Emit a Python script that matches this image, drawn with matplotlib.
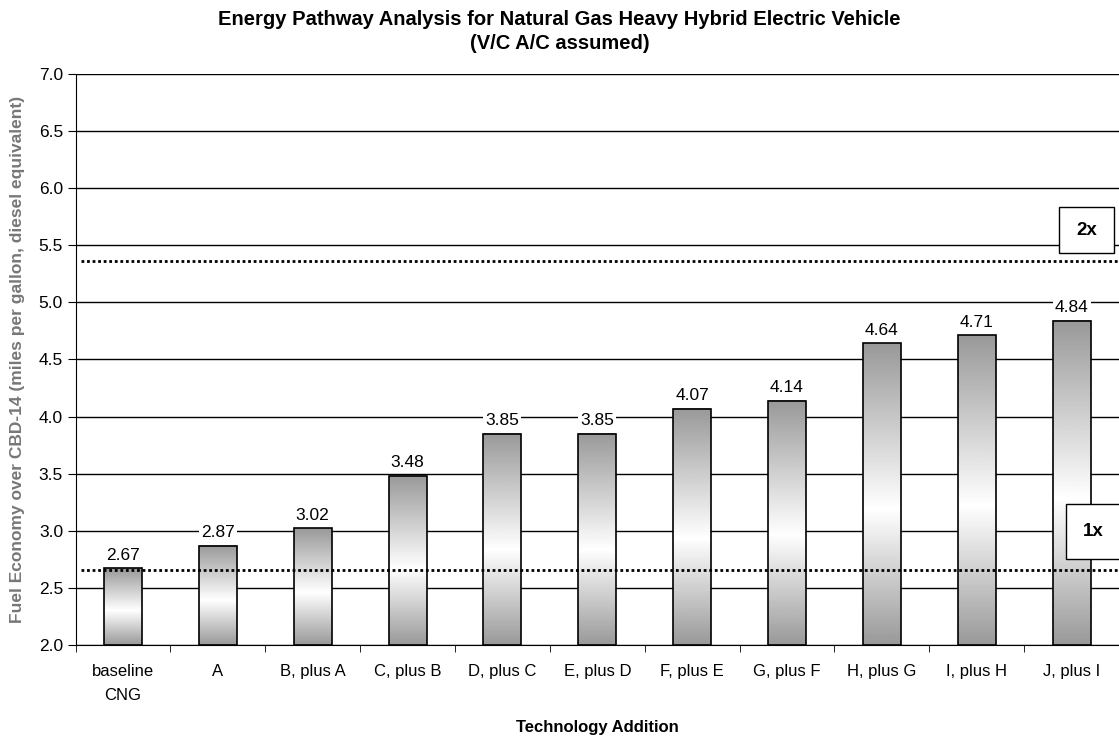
import matplotlib.pyplot as plt
import numpy as np
from matplotlib.patches import Rectangle

plt.rcParams['font.family'] = ['Liberation Sans', 'DejaVu Sans']

#%%
# data
categories = ["baseline\nCNG", "A", "B, plus A", "C, plus B", "D, plus C",
              "E, plus D", "F, plus E", "G, plus F", "H, plus G", "I, plus H",
              "J, plus I"]
mpg = [2.67, 2.87, 3.02, 3.48, 3.85, 3.85, 4.07, 4.14, 4.64, 4.71, 4.84]
level_1x = 2.66
level_2x = 5.36

#%%
def gradient_bar(ax, x, top, bottom, width, grey=0.6, white_at=0.45):
    """Bar filled grey-white-grey from bottom to top."""
    t = np.linspace(0, 1, 256)
    prof = np.where(t < white_at, t/white_at, (1-t)/(1-white_at))
    col = grey + (1-grey)*prof
    img = np.repeat(col[:, None], 2, axis=1)
    ax.imshow(img, extent=(x-width/2, x+width/2, bottom, top), origin="lower",
              cmap="gray", vmin=0, vmax=1, aspect="auto", zorder=2,
              interpolation="bilinear")
    ax.add_patch(Rectangle((x-width/2, bottom), width, top-bottom,
                           fill=False, ec="black", lw=1.2, zorder=3))


fig = plt.figure(figsize=(11.19, 7.38), dpi=100)
ax = fig.add_axes([0.0675, 0.126, 0.9325, 0.774])

ymin, ymax = 2.0, 7.0
x = np.arange(len(categories))
w = 0.4

for i in range(len(mpg)):
    gradient_bar(ax, x[i], mpg[i], ymin, w)
    ax.annotate(f"{mpg[i]:.2f}", (x[i], mpg[i]), xytext=(0, 4),
                textcoords="offset points", ha="center", va="bottom",
                fontsize=12.5, zorder=4,
                bbox=dict(fc="white", ec="none", pad=1.5))

# reference levels
ax.plot([-0.44, 10.5], [level_2x, level_2x], ls=(0, (1, 1)), c="black",
        lw=2, zorder=5)
ax.plot([-0.44, 10.5], [level_1x, level_1x], ls=(0, (1, 1)), c="black",
        lw=2, zorder=5)

ax.add_patch(Rectangle((9.87, 5.43), 0.58, 0.40, fc="white", ec="black",
                       lw=1, zorder=6, clip_on=False))
ax.text(10.16, 5.63, "2x", fontsize=13.5, fontweight="bold", ha="center",
        va="center", zorder=7)
ax.add_patch(Rectangle((9.94, 2.75), 0.6, 0.485, fc="white", ec="black",
                       lw=1, zorder=6, clip_on=False))
ax.text(10.23, 2.99, "1x", fontsize=13.5, fontweight="bold", ha="center",
        va="center", zorder=7)

ax.set_xlim(-0.5, 10.5)
ax.set_ylim(ymin, ymax)
ax.set_yticks(np.arange(2.0, 7.01, 0.5))
ax.set_yticklabels([f"{t:.1f}" for t in np.arange(2.0, 7.01, 0.5)])
ax.yaxis.grid(True, color="black", lw=1)
ax.set_axisbelow(True)

ax.set_xticks(x)
ax.set_xticklabels(categories, fontsize=12, linespacing=1.7)
ax.set_xticks(np.arange(-0.5, 10.6, 1), minor=True)
ax.tick_params(axis="x", which="major", length=0, pad=14)
ax.tick_params(axis="x", which="minor", length=5, direction="out")
ax.tick_params(axis="y", length=6, direction="out", labelsize=12.5, pad=3)

ax.spines["top"].set_visible(False)
ax.spines["right"].set_visible(False)

ax.set_xlabel("Technology Addition", fontsize=12, fontweight="bold",
              labelpad=12)
ax.set_ylabel("Fuel Economy over CBD-14 (miles per gallon, diesel equivalent)",
              fontsize=12.5, fontweight="bold", color="#777777", labelpad=10)
fig.suptitle("Energy Pathway Analysis for Natural Gas Heavy Hybrid Electric "
             "Vehicle\n(V/C A/C assumed)", x=0.5, y=0.987, fontsize=14.5,
             fontweight="bold", linespacing=1.35)

fig.savefig("out.png", dpi=100)
